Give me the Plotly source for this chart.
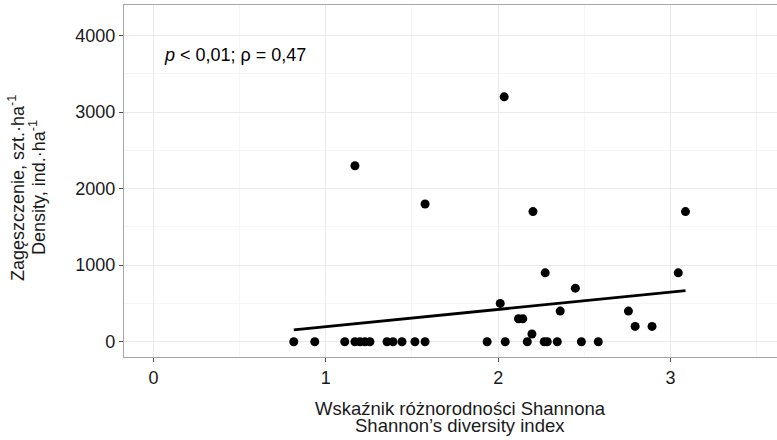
import plotly.graph_objects as go

# Shannon diversity index (x) and density (y)
shannon = [0.814, 0.936, 1.110, 1.169, 1.198, 1.227, 1.256, 1.355, 1.390, 1.442,
           1.517, 1.576, 1.936, 2.041, 2.169, 2.267, 2.285, 2.343, 2.483, 2.581,
           1.169, 1.576, 2.035, 2.202, 2.012, 2.118, 2.143, 2.196, 2.273, 2.360,
           2.448, 2.756, 2.795, 2.893, 3.045, 3.087]
density = [0, 0, 0, 0, 0, 0, 0, 0, 0, 0,
           0, 0, 0, 0, 0, 0, 0, 0, 0, 0,
           2300, 1800, 3200, 1700, 500, 300, 300, 100, 900, 400,
           700, 400, 200, 200, 900, 1700]

# fitted linear trend (endpoints)
trend_x = [0.814, 3.087]
trend_y = [154, 667]

x_ticks = [0, 1, 2, 3]
y_ticks = [0, 1000, 2000, 3000, 4000]

x_title = ["Wskaźnik różnorodności Shannona", "Shannon’s diversity index"]
y_title = ["Zagęszczenie, szt.·ha<sup>-1</sup>", "Density, ind.·ha<sup>-1</sup>"]

FONT = "Liberation Sans, Arial, sans-serif"

fig = go.Figure()
fig.add_trace(go.Scatter(x=shannon, y=density, mode="markers",
                         marker=dict(color="black", size=9),
                         hoverinfo="x+y", showlegend=False))
fig.add_trace(go.Scatter(x=trend_x, y=trend_y, mode="lines",
                         line=dict(color="black", width=2.8),
                         showlegend=False))

axis_common = dict(
    showgrid=True, gridcolor="#EBEBEB", gridwidth=1,
    zeroline=False, showline=True, linecolor="#A6A6A6", linewidth=1.3,
    ticks="outside", ticklen=4, tickcolor="#4D4D4D", tickwidth=1,
    tickfont=dict(family=FONT, size=18, color="#1A1A1A"),
)

fig.update_xaxes(range=[-0.171, 3.618], tickvals=x_ticks, mirror=True,
                 minor=dict(dtick=0.5, tick0=0, showgrid=True, gridcolor="#F6F6F6", ticks=""),
                 **axis_common)
fig.update_yaxes(range=[-200, 4400], tickvals=y_ticks, mirror=False,
                 minor=dict(dtick=500, tick0=0, showgrid=True, gridcolor="#F6F6F6", ticks=""),
                 **axis_common)

fig.add_annotation(text="<i>p</i> &lt; 0,01; ρ = 0,47", x=0.052, y=3745,
                   xref="x", yref="y", xanchor="left", yanchor="middle",
                   showarrow=False, font=dict(family=FONT, size=18, color="black"))

for txt, py in zip(x_title, [408, 425]):
    fig.add_annotation(text=txt, x=(460 - 124) / 653, y=(357 - py) / 352,
                       xref="paper", yref="paper", xanchor="center", yanchor="middle",
                       showarrow=False, font=dict(family=FONT, size=18.5, color="#1A1A1A"))

for txt, px in zip(y_title, [16, 37]):
    fig.add_annotation(text=txt, x=(px - 124) / 653, y=(357 - 188) / 352, textangle=-90,
                       xref="paper", yref="paper", xanchor="center", yanchor="middle",
                       showarrow=False, font=dict(family=FONT, size=18, color="#1A1A1A"))

fig.update_layout(width=777, height=440,
                  margin=dict(l=124, r=0, t=5, b=83),
                  paper_bgcolor="white", plot_bgcolor="white",
                  font=dict(family=FONT))

fig.write_html("out.html", config={"displayModeBar": False},
               post_script="document.body.style.margin='0px';document.body.style.overflow='hidden';")
